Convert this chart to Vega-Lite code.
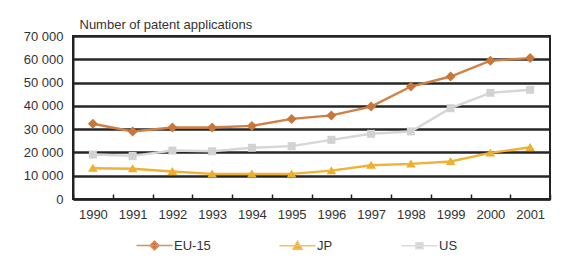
{
  "$schema": "https://vega.github.io/schema/vega-lite/v6.json",
  "width": 477,
  "height": 163,
  "autosize": {"type": "none"},
  "padding": {"left": 73, "top": 36, "right": 20, "bottom": 65},
  "background": "#ffffff",
  "config": {
    "font": "Liberation Sans",
    "view": {"stroke": "#222222", "strokeWidth": 2},
    "axis": {"labelFont": "Liberation Sans", "titleFont": "Liberation Sans", "labelColor": "#333333", "titleColor": "#333333"},
    "legend": {"orient": "none", "legendX": 62, "legendY": 203, "direction": "horizontal", "symbolSize": 100, "labelOffset": 26, "columnPadding": 65, "labelFontSize": 13, "labelColor": "#333333", "labelFont": "Liberation Sans", "symbolStrokeWidth": 1.5}
  },
  "data": {
    "values": [
      {"year": "1990", "region": "EU-15", "value": 32300},
      {"year": "1991", "region": "EU-15", "value": 29000},
      {"year": "1992", "region": "EU-15", "value": 30700},
      {"year": "1993", "region": "EU-15", "value": 30700},
      {"year": "1994", "region": "EU-15", "value": 31400},
      {"year": "1995", "region": "EU-15", "value": 34400},
      {"year": "1996", "region": "EU-15", "value": 35900},
      {"year": "1997", "region": "EU-15", "value": 39700},
      {"year": "1998", "region": "EU-15", "value": 48300},
      {"year": "1999", "region": "EU-15", "value": 52600},
      {"year": "2000", "region": "EU-15", "value": 59400},
      {"year": "2001", "region": "EU-15", "value": 60500},
      {"year": "1990", "region": "JP", "value": 13200},
      {"year": "1991", "region": "JP", "value": 13000},
      {"year": "1992", "region": "JP", "value": 11800},
      {"year": "1993", "region": "JP", "value": 10800},
      {"year": "1994", "region": "JP", "value": 10800},
      {"year": "1995", "region": "JP", "value": 10800},
      {"year": "1996", "region": "JP", "value": 12200},
      {"year": "1997", "region": "JP", "value": 14500},
      {"year": "1998", "region": "JP", "value": 15100},
      {"year": "1999", "region": "JP", "value": 16100},
      {"year": "2000", "region": "JP", "value": 19800},
      {"year": "2001", "region": "JP", "value": 22200},
      {"year": "1990", "region": "US", "value": 19100},
      {"year": "1991", "region": "US", "value": 18500},
      {"year": "1992", "region": "US", "value": 20800},
      {"year": "1993", "region": "US", "value": 20500},
      {"year": "1994", "region": "US", "value": 22000},
      {"year": "1995", "region": "US", "value": 22700},
      {"year": "1996", "region": "US", "value": 25400},
      {"year": "1997", "region": "US", "value": 28000},
      {"year": "1998", "region": "US", "value": 29000},
      {"year": "1999", "region": "US", "value": 39000},
      {"year": "2000", "region": "US", "value": 45600},
      {"year": "2001", "region": "US", "value": 46900}
    ]
  },
  "encoding": {
    "x": {
      "field": "year", "type": "ordinal",
      "scale": {"type": "band", "paddingInner": 0, "paddingOuter": 0},
      "axis": {
        "title": null, "labelAngle": 0, "labelFontSize": 13, "labelPadding": 14,
        "tickBand": "extent", "tickSize": -5, "tickColor": "#222222", "tickWidth": 1.5,
        "domainColor": "#222222", "domainWidth": 2, "grid": false
      }
    },
    "y": {
      "field": "value", "type": "quantitative",
      "scale": {"domain": [0, 70000], "nice": false},
      "axis": {
        "values": [0, 10000, 20000, 30000, 40000, 50000, 60000, 70000],
        "labelExpr": "replace(format(datum.value, ','), ',', ' ')",
        "labelFontSize": 13, "labelPadding": 10, "ticks": false,
        "domainColor": "#222222", "domainWidth": 2,
        "grid": true, "gridColor": "#262626", "gridWidth": 2.4,
        "title": "Number of patent applications",
        "titleAngle": 0, "titleAlign": "left", "titleBaseline": "alphabetic",
        "titleX": 6, "titleY": -8, "titleFontSize": 13, "titleFontWeight": "normal"
      }
    }
  },
  "resolve": {
    "scale": {"color": "independent", "shape": "independent", "stroke": "independent"},
    "legend": {"color": "independent", "shape": "independent", "stroke": "independent"}
  },
  "layer": [
    {
      "mark": {"type": "line", "strokeWidth": 2.4},
      "encoding": {
        "color": {
          "field": "region", "type": "nominal",
          "scale": {"domain": ["EU-15", "JP", "US"], "range": ["#d08045", "#f0b236", "#d6d6d6"]},
          "legend": null
        }
      }
    },
    {
      "mark": {"type": "point", "filled": true, "opacity": 1, "size": 64},
      "encoding": {
        "color": {
          "field": "region", "type": "nominal",
          "scale": {"domain": ["EU-15", "JP", "US"], "range": ["#c9763a", "#eeae30", "#d2d2d2"]},
          "legend": null
        },
        "shape": {
          "field": "region", "type": "nominal",
          "scale": {"domain": ["EU-15", "JP", "US"], "range": ["M0,-1.25L1.25,0L0,1.25L-1.25,0Z", "M0,-1.1L1.2,0.9L-1.2,0.9Z", "M-1,-1H1V1H-1Z"]},
          "legend": null
        }
      }
    },
    {
      "transform": [{"filter": "false"}],
      "mark": {"type": "point", "filled": true, "opacity": 1, "size": 100, "strokeWidth": 1.5},
      "encoding": {
        "color": {
          "field": "region", "type": "nominal", "title": null,
          "scale": {"domain": ["EU-15", "JP", "US"], "range": ["#c9763a", "#eeae30", "#d2d2d2"]}
        },
        "stroke": {
          "field": "region", "type": "nominal", "title": null,
          "scale": {"domain": ["EU-15", "JP", "US"], "range": ["#d99060", "#f2bf58", "#dcdcdc"]}
        },
        "shape": {
          "field": "region", "type": "nominal", "title": null,
          "scale": {"domain": ["EU-15", "JP", "US"], "range": ["M-1,0H6.2M2.6,-0.9L3.5,0L2.6,0.9L1.7,0Z", "M-1,0H6.2M2.6,-0.9L3.5,0.7L1.7,0.7Z", "M-1,0H6.2M1.9,-0.6H3.3V0.6H1.9Z"]}
        }
      }
    }
  ]
}
